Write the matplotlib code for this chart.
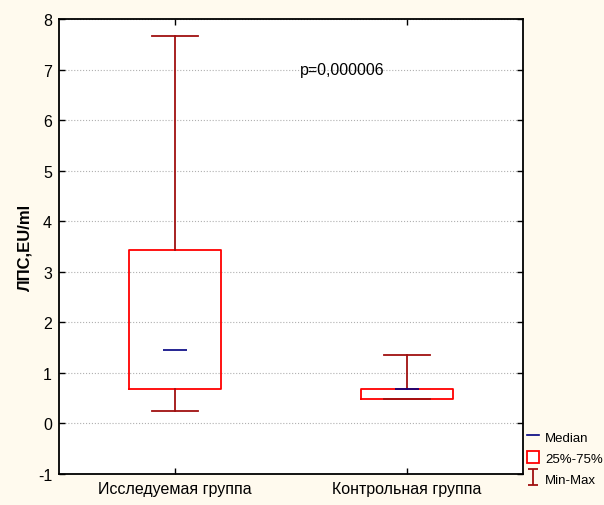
import matplotlib.pyplot as plt
from matplotlib.patches import Rectangle
from matplotlib.lines import Line2D
from matplotlib.path import Path

plt.rcParams['font.family'] = ['Liberation Sans', 'DejaVu Sans']
plt.rcParams['axes.unicode_minus'] = False

# данные
groups = ['Исследуемая группа', 'Контрольная группа']
positions = [1, 2]
medians = [1.45, 0.69]
q1 = [0.68, 0.48]
q3 = [3.43, 0.68]
mins = [0.25, 0.48]
maxs = [7.67, 1.35]

bg = '#fffaee'
dark_red = '#a01010'
fig = plt.figure(figsize=(6.04, 5.06), dpi=100, facecolor=bg)
ax = fig.add_axes([0.0977, 0.0613, 0.768, 0.8992])

stats = []
for i in range(len(groups)):
    stats.append({'med': medians[i], 'q1': q1[i], 'q3': q3[i],
                  'whislo': mins[i], 'whishi': maxs[i], 'fliers': []})

ax.bxp(stats, positions=positions, widths=0.4, capwidths=0.2,
       showfliers=False,
       boxprops=dict(color='#ff0000', linewidth=1.3),
       whiskerprops=dict(color=dark_red, linewidth=1.3),
       capprops=dict(color=dark_red, linewidth=1.3),
       medianprops=dict(visible=False))
ax.hlines(medians, [p - 0.05 for p in positions], [p + 0.05 for p in positions],
          color='#000080', linewidth=1.2, zorder=5)

ax.set_xlim(0.5, 2.5)
ax.set_ylim(-1, 8)
ax.set_yticks(range(-1, 9))
ax.set_xticks(positions)
ax.set_xticklabels(groups, fontsize=11.5)
ax.tick_params(axis='y', labelsize=11.5)
ax.tick_params(direction='in', top=True, right=True, length=4, width=1, pad=5)
ax.grid(axis='y', color='#b0b0b0', linestyle=':', linewidth=0.8)
ax.set_axisbelow(True)
for s in ax.spines.values():
    s.set_linewidth(1.3)
ax.set_ylabel('ЛПС,EU/ml', fontsize=12, fontweight='bold', labelpad=4)

ax.text(1.72, 7.0, 'p=0,000006', fontsize=11.5, ha='center', va='center')

# легенда
i_marker = Path([(-0.6, -1), (0.6, -1), (0, -1), (0, 1), (-0.6, 1), (0.6, 1)],
                [Path.MOVETO, Path.LINETO, Path.MOVETO, Path.LINETO, Path.MOVETO, Path.LINETO])
handles = [Line2D([], [], color='#000080', linewidth=1.2),
           Rectangle((0, 0), 1, 1, facecolor='white', edgecolor='#ff0000', linewidth=1.3),
           Line2D([], [], marker=i_marker, markersize=12, markeredgewidth=1.3,
                  color=dark_red, linestyle='none', markerfacecolor='none')]
labels = ['Median', '25%-75%', 'Min-Max']
fig.legend(handles, labels, loc='lower left', bbox_to_anchor=(522 / 604, 14 / 506),
           frameon=False, fontsize=9.5, handlelength=0.9, handleheight=1.1,
           handletextpad=0.45, labelspacing=0.55, borderaxespad=0.0)

plt.savefig('out.png', dpi=100, facecolor=bg)
